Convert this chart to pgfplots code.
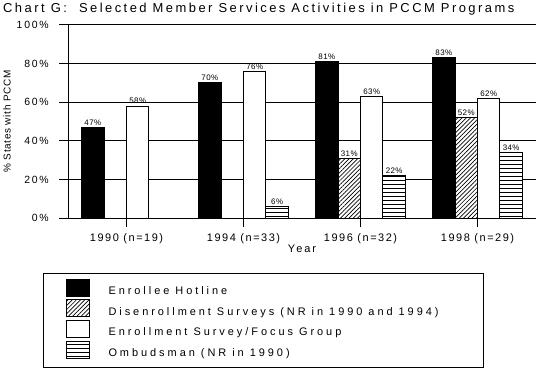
\documentclass[border=0pt]{standalone}
\usepackage{fontspec}
\setmainfont[LetterSpace=18]{Liberation Sans}
\newfontfamily\titlefont[LetterSpace=19]{Liberation Sans}
\newfontfamily\xtickfont[LetterSpace=14]{Liberation Sans}
\newfontfamily\ytickfont[LetterSpace=17]{Liberation Sans}
\newfontfamily\legfont[LetterSpace=27]{Liberation Sans}
\newfontfamily\ylabfont[LetterSpace=7]{Liberation Sans}
\newfontfamily\valfont[LetterSpace=5]{Liberation Sans}
\usepackage{pgfplots}
\pgfplotsset{compat=1.18}
\usetikzlibrary{patterns.meta}
\pgfplotstableread{
x y
0 47
1 70
2 81
3 83
}\hotline
\pgfplotstableread{
x y
2 31
3 52
}\disenroll
\pgfplotstableread{
x y
0 58
1 76
2 63
3 62
}\enroll
\pgfplotstableread{
x y
1 6
2 22
3 34
}\ombuds
\begin{document}
\begin{tikzpicture}[x=1bp,y=1bp]
\begin{axis}[
  at={(68bp,154bp)}, anchor=south west,
  scale only axis, width=468bp, height=193bp,
  xmin=-0.5, xmax=3.5, ymin=0, ymax=100,
  axis x line*=bottom, axis y line*=left,
  axis line style={line width=1bp},
  ybar, bar width=0.192,
  xtick={0,1,2,3},
  xticklabels={1990 (n=19),1994 (n=33),1996 (n=32),1998 (n=29)},
  ytick={0,20,40,60,80,100},
  yticklabels={0\%,20\%,40\%,60\%,80\%,100\%},
  tick align=outside, major tick length=9bp,
  tick style={line width=1bp, black},
  ymajorgrids, major grid style={line width=1bp, black},
  xticklabel style={font=\xtickfont\fontsize{11}{13}\selectfont, yshift=-3bp},
  yticklabel style={font=\ytickfont\fontsize{10.5}{12}\selectfont, anchor=east, inner sep=0pt, xshift=-10bp},
  /pgf/number format/assume math mode=true,
  xlabel={Year},
  xlabel style={font=\fontsize{11}{13}\selectfont, at={(axis description cs:0.5,-0.1606)}, anchor=center},
  ylabel={\% States with PCCM},
  ylabel style={font=\ylabfont\fontsize{10}{12}\selectfont, at={(axis description cs:-0.13,0.5)}, anchor=center},
  nodes near coords={\pgfmathprintnumber{\pgfplotspointmeta}\%},
  every node near coord/.append style={font=\valfont\fontsize{8}{9}\selectfont, inner sep=1.5bp, black},
  every axis plot/.append style={line width=1bp, draw=black},
  legend style={at={(-0.0534,-0.285)}, anchor=north west, draw=black, line width=1bp,
    inner xsep=22bp, inner ysep=5bp, row sep=2.8bp, column sep=19bp,
    nodes={inner sep=0pt}, font=\legfont\fontsize{11}{13}\selectfont},
  legend cell align=left,
  mylegend/.style={legend image code/.code={\draw[##1] (0bp,-5bp) rectangle (23bp,12bp);}},
  mylegendlast/.style={legend image code/.code={\draw[##1] (0bp,-5bp) rectangle (23bp,12bp);\path (0bp,-9bp);}},
]
\addplot[fill=black, bar shift=-0.288, mylegend] table[x=x,y=y] {\hotline};
\addlegendentry{\makebox[353bp][l]{Enrollee Hotline}}
\addplot[fill=white, postaction={pattern={Lines[angle=45,distance=3bp,line width=0.7bp]}}, bar shift=-0.096, mylegend] table[x=x,y=y] {\disenroll};
\addlegendentry{\makebox[353bp][l]{Disenrollment Surveys (NR in 1990 and 1994)}}
\addplot[fill=white, bar shift=0.096, mylegend] table[x=x,y=y] {\enroll};
\addlegendentry{\makebox[353bp][l]{Enrollment Survey/Focus Group}}
\addplot[fill=white, postaction={pattern={Lines[angle=0,distance=4bp,line width=1bp]}}, bar shift=0.288, mylegendlast] table[x=x,y=y] {\ombuds};
\addlegendentry{\makebox[353bp][l]{Ombudsman (NR in 1990)}}
\end{axis}
\node[anchor=base west, inner sep=0pt, font=\titlefont\fontsize{13}{15}\selectfont] at (3,360) {Chart G:\ \ Selected Member Services Activities in PCCM Programs};
\pgfresetboundingbox
\path (0,0) rectangle (536,372);
\end{tikzpicture}
\end{document}
